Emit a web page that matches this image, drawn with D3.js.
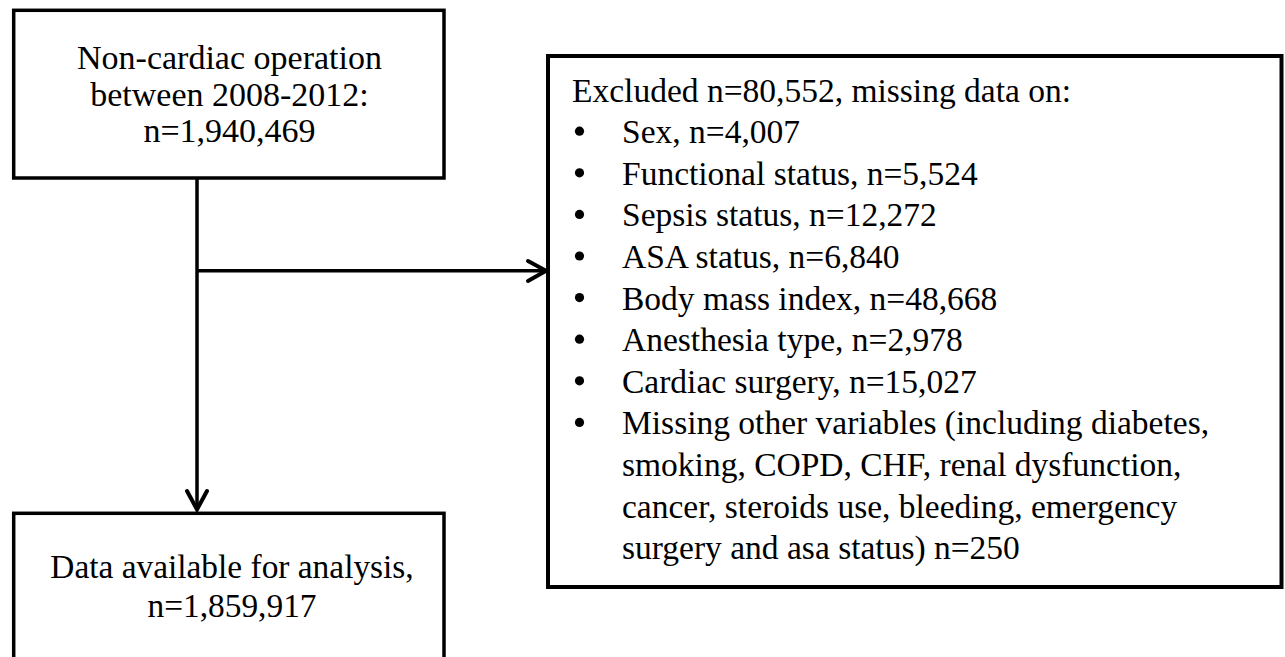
<!DOCTYPE html>
<html><head><meta charset="utf-8">
<script src="https://cdn.jsdelivr.net/npm/d3@7"></script>
<style>body{margin:0;background:#fff;}svg{display:block;}</style>
</head><body>
<svg id="c" width="1285" height="657"></svg>
<script>
const topBoxLines = ["Non-cardiac operation", "between 2008-2012:", "n=1,940,469"];
const bottomBoxLines = ["Data available for analysis,", "n=1,859,917"];
const excludedHeader = "Excluded n=80,552, missing data on:";
const excludedCategories = ["Sex", "Functional status", "Sepsis status", "ASA status", "Body mass index", "Anesthesia type", "Cardiac surgery"];
const excludedCounts = ["4,007", "5,524", "12,272", "6,840", "48,668", "2,978", "15,027"];
const otherLines = ["Missing other variables (including diabetes,", "smoking, COPD, CHF, renal dysfunction,", "cancer, steroids use, bleeding, emergency", "surgery and asa status) n=250"];

const svg = d3.select("#c");
const font = "'Liberation Serif', 'Times New Roman', serif";
const sw = 3.5;

// boxes
const boxes = [
  {x:13.7, y:10.3, w:430.3, h:167.7},
  {x:13.7, y:513.3, w:430.3, h:200},
  {x:548, y:56, w:733.5, h:531}
];
svg.selectAll("rect.box").data(boxes).join("rect").attr("class","box")
  .attr("x",d=>d.x).attr("y",d=>d.y).attr("width",d=>d.w).attr("height",d=>d.h)
  .attr("fill","none").attr("stroke","#000").attr("stroke-width",d=>d.x>500?4:sw);

// lines
const line = (x1,y1,x2,y2)=>svg.append("line").attr("x1",x1).attr("y1",y1).attr("x2",x2).attr("y2",y2)
  .attr("stroke","#000").attr("stroke-width",sw);
line(197,178,197,510);
line(197,270.7,546,270.7);
// arrowheads
const head = (pts)=>svg.append("path").attr("d",d3.line()(pts)).attr("fill","none").attr("stroke","#000")
  .attr("stroke-width",4).attr("stroke-linecap","round").attr("stroke-linejoin","miter");
head([[187,491],[197,509.5],[207,491]]);
head([[528,261],[546,270.7],[528,281]]);

// top box text
svg.selectAll("text.t1").data(topBoxLines).join("text").attr("class","t1")
  .attr("x",229.5).attr("y",(d,i)=>69.3+i*36.2).attr("text-anchor","middle")
  .style("font-family",font).style("font-size","34px").text(d=>d);
svg.selectAll("text.t2").data(bottomBoxLines).join("text").attr("class","t2")
  .attr("x",232).attr("y",(d,i)=>578.3+i*38.4).attr("text-anchor","middle")
  .style("font-family",font).style("font-size","33.4px").text(d=>d);

// right box
const fs2 = 33.5;
const lh = 41.6;
const y0 = 101.6;
svg.append("text").attr("x",572).attr("y",y0).style("font-family",font).style("font-size",fs2+"px").text(excludedHeader);
const items = excludedCategories.map((c,i)=>[c+", n="+excludedCounts[i]]);
items.push(otherLines);
let row = 1;
items.forEach(lines=>{
  svg.append("circle").attr("cx",579.5).attr("cy",y0+row*lh-12).attr("r",4.6).attr("fill","#000");
  lines.forEach(l=>{
    svg.append("text").attr("x",622).attr("y",y0+row*lh).style("font-family",font).style("font-size",fs2+"px").text(l);
    row++;
  });
});
</script>
</body></html>
